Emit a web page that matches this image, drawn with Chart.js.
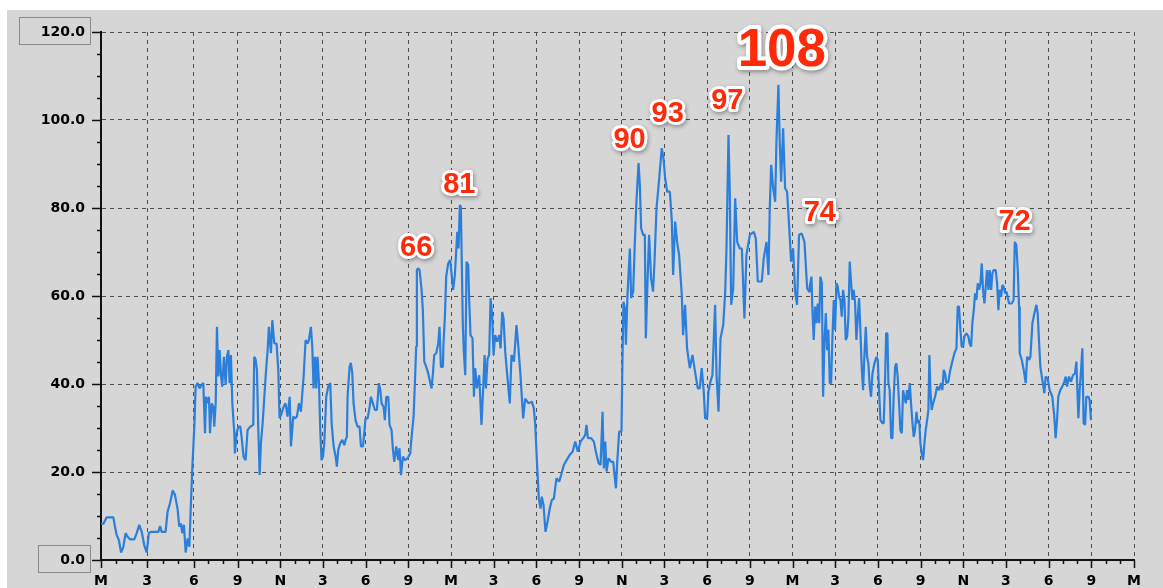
<!DOCTYPE html>
<html><head><meta charset="utf-8">
<style>html,body{margin:0;padding:0;background:#fff;}canvas{display:block;}</style>
<script src="https://cdn.jsdelivr.net/npm/chart.js@4.4.1/dist/chart.umd.min.js"></script>
</head><body>
<canvas id="c" width="1163" height="588"></canvas>
<script>
// x axis: labelled tick positions (months from start) and their labels
const xTickPos = [0, 3.25, 6.53, 9.6, 12.6, 15.6, 18.6, 21.6, 24.6, 27.6, 30.6, 33.6, 36.6,
  39.6, 42.6, 45.6, 48.6, 51.6, 54.6, 57.6, 60.6, 63.6, 66.6, 69.6, 72.6];
const xTickLabels = ['M','3','6','9','N','3','6','9','M','3','6','9','N','3','6','9','M','3','6','9','N','3','6','9','M'];
const yMajorTicks = [0, 20, 40, 60, 80, 100, 120];

// series: time (months) and value
const t = [
 0,0.16,0.40,0.87,0.98,1.10,1.26,1.41,1.57,1.73,
 1.87,2.04,2.34,2.51,2.69,2.86,3.04,3.21,3.37,3.56,
 4.03,4.15,4.26,4.54,4.68,4.85,5.04,5.20,5.39,5.50,
 5.62,5.71,5.83,5.95,6.09,6.21,6.32,6.42,6.49,6.56,
 6.65,6.79,6.93,7.07,7.19,7.31,7.38,7.49,7.59,7.66,
 7.78,7.89,7.96,8.06,8.15,8.24,8.34,8.43,8.52,8.64,
 8.76,8.85,8.95,9.04,9.13,9.23,9.37,9.41,9.53,9.65,
 9.79,9.88,10.02,10.16,10.30,10.49,10.70,10.77,10.87,10.96,
 11.05,11.15,11.24,11.36,11.48,11.57,11.71,11.80,11.94,12.04,
 12.18,12.34,12.46,12.55,12.69,12.83,12.97,13.11,13.26,13.35,
 13.51,13.63,13.77,13.91,14.05,14.24,14.38,14.52,14.61,14.75,
 14.85,14.94,15.04,15.13,15.22,15.32,15.41,15.50,15.60,15.69,
 15.83,15.97,16.11,16.21,16.35,16.49,16.58,16.67,16.81,16.96,
 17.10,17.19,17.28,17.33,17.47,17.56,17.66,17.75,17.89,18.03,
 18.17,18.27,18.41,18.50,18.59,18.74,18.88,18.97,19.11,19.25,
 19.39,19.53,19.63,19.72,19.86,19.95,20.05,20.19,20.28,20.42,
 20.52,20.61,20.75,20.89,20.98,21.08,21.22,21.36,21.55,21.73,
 21.83,21.97,22.06,22.15,22.20,22.30,22.39,22.53,22.62,22.72,
 22.86,23.00,23.14,23.23,23.33,23.42,23.56,23.70,23.79,23.89,
 24.03,24.07,24.17,24.26,24.40,24.54,24.68,
 24.75,24.87,25.04,25.13,25.22,25.29,25.36,25.43,25.50,25.60,
 25.69,25.81,25.88,25.97,26.11,26.21,26.30,26.42,26.58,26.74,
 26.86,26.96,27.05,27.17,27.28,27.38,
 27.49,27.59,27.70,27.84,27.99,28.08,28.20,28.29,28.41,28.55,
 28.73,28.85,29.02,29.20,29.34,29.48,29.67,29.81,30.05,30.28,
 30.42,30.52,30.66,30.77,30.89,30.98,
 31.10,31.24,31.38,31.54,31.68,31.83,32.01,32.20,32.34,32.53,
 32.72,32.95,33.14,33.33,33.51,33.70,33.89,34.03,34.12,34.22,
 34.45,34.64,34.78,34.97,35.11,35.25,
 35.34,35.44,35.53,35.67,35.86,36.00,36.09,36.19,36.28,36.42,
 36.58,36.65,36.72,36.82,36.89,37.00,37.17,37.26,37.40,37.52,
 37.63,37.78,37.87,37.96,38.10,38.22,
 38.29,38.41,38.52,38.66,38.80,38.90,39.04,39.23,39.41,39.53,
 39.65,39.79,39.98,40.12,40.21,40.35,40.49,40.63,40.82,40.91,
 41.05,41.19,41.38,41.57,41.71,41.94,
 42.08,42.22,42.36,42.46,42.60,42.69,42.83,42.97,43.16,43.26,
 43.40,43.54,43.73,43.87,43.96,44.10,44.19,44.29,44.43,44.57,
 44.71,44.89,45.04,45.22,45.36,45.60,
 45.88,46.02,46.16,46.44,46.58,46.77,46.91,47.00,47.10,47.24,
 47.38,47.47,47.61,47.70,47.80,47.94,48.08,48.22,48.36,48.50,
 48.64,48.78,48.92,49.06,49.25,49.44,
 49.63,49.77,
 49.81,49.93,49.99,50.09,50.19,50.28,50.37,50.47,50.56,50.66,
 50.75,50.84,50.94,51.03,51.12,51.22,51.31,51.40,51.50,51.59,
 51.69,51.78,51.87,51.97,52.06,52.15,52.25,52.34,52.44,52.53,
 52.62,52.72,52.81,52.90,53.00,53.09,53.19,53.28,53.37,53.47,
 53.56,53.65,53.75,53.84,53.93,54.03,54.12,54.22,54.36,54.50,
 54.59,54.68,54.78,54.92,55.01,55.11,55.18,55.27,55.34,55.43,
 55.53,55.62,55.71,55.81,55.90,55.99,56.09,56.18,56.28,56.37,
 56.46,56.56,56.65,56.74,56.84,56.93,57.03,57.12,57.21,57.31,
 57.40,57.50,57.59,57.68,57.78,57.87,57.96,58.06,58.15,58.22,
 58.29,58.38,58.48,58.62,58.76,58.90,59.04,59.13,59.23,59.32,
 59.41,59.55,59.69,59.83,59.98,60.12,60.21,60.30,60.40,60.49,
 60.59,60.68,60.82,60.96,61.05,61.15,61.24,61.34,61.43,61.52,
 61.62,61.71,61.81,61.90,61.99,62.09,62.18,62.27,62.37,62.46,
 62.56,62.65,62.74,62.88,62.98,63.07,63.16,63.26,63.35,63.44,
 63.54,63.63,63.72,63.82,64.00,64.14,64.22,64.33,64.43,64.52,
 64.57,64.71,64.85,64.99,65.09,65.23,65.32,65.46,65.60,65.74,
 65.83,65.92,66.02,66.16,66.30,66.39,66.53,66.67,66.86,67.00,
 67.09,67.19,67.28,67.42,67.56,67.70,67.80,67.89,68.03,68.17,
 68.31,68.45,68.55,68.62,68.69,68.78,68.88,68.97,69.06,69.16,
 69.25,69.39,69.48,69.58
];
const v = [
 8.3,8.2,9.7,9.7,7.6,5.7,4.5,1.7,3.0,6.1,
 5.3,4.7,4.7,6.1,8.0,6.4,3.4,1.7,6.2,6.4,
 6.4,7.7,6.4,6.4,11.0,12.9,15.8,14.8,11.4,7.6,
 8.3,6.1,8.0,1.7,4.9,3.0,12.9,21.2,25.8,30.3,
 39.4,40.2,39.0,39.8,40.2,28.8,37.1,35.6,37.1,28.8,
 35.6,34.8,30.3,35.6,53.0,41.7,47.7,42.0,39.4,46.2,
 39.8,46.2,47.7,40.2,46.6,35.6,28.8,24.2,28.8,30.3,
 30.3,28.0,23.5,22.7,29.5,30.3,30.7,46.2,45.5,43.2,
 30.3,19.3,26.5,31.1,37.1,41.7,47.7,53.0,47.0,54.5,
 49.2,49.2,43.2,32.2,33.3,34.8,35.6,32.6,37.1,25.8,
 32.6,32.2,32.6,35.6,33.7,41.7,50.0,49.2,50.0,53.0,
 48.5,39.0,46.2,39.0,46.2,40.2,29.5,22.7,23.5,26.5,
 37.1,39.4,40.2,31.1,25.8,23.5,21.2,25.0,26.5,27.3,
 26.1,27.3,28.0,37.1,43.9,44.8,42.4,35.6,31.8,30.3,
 30.3,25.8,25.8,28.8,32.2,32.2,34.8,37.1,35.6,34.1,
 34.1,40.2,38.6,35.6,34.8,31.8,37.1,37.1,30.7,29.5,
 25.0,22.3,25.8,22.7,25.4,19.3,23.5,22.7,23.1,24.2,
 28.0,32.6,40.2,48.5,65.9,66.3,65.9,61.4,56.8,45.1,
 43.9,42.4,40.2,39.0,42.4,46.6,47.0,49.2,53.0,43.9,
 43.9,49.2,55.3,64.4,67.4,68.2,63.6,
 61.4,64.8,74.6,70.8,80.7,80.3,67.0,53.4,47.3,42.0,
 67.8,67.0,58.7,51.1,50.4,37.1,43.6,39.0,42.0,30.7,
 39.0,46.6,39.0,45.8,46.6,59.5,
 55.7,46.6,51.1,49.6,51.1,48.1,56.4,54.9,47.3,42.0,
 35.6,46.6,45.1,53.4,48.1,42.0,32.2,36.7,35.6,36.0,
 34.5,30.7,20.8,14.0,11.7,14.4,
 12.5,6.4,8.7,11.7,13.6,14.0,18.6,17.8,19.3,21.6,
 22.7,23.9,24.6,26.9,24.6,26.9,27.7,28.4,30.7,27.7,
 27.7,26.9,24.6,22.0,21.6,33.7,
 20.8,26.9,20.1,23.1,22.3,22.3,19.3,16.3,22.3,29.2,
 29.2,45.8,58.7,57.2,48.9,60.2,70.8,59.5,61.0,72.3,
 81.4,90.2,85.2,75.4,73.9,73.9,
 50.4,63.3,73.9,64.0,61.0,67.8,79.9,86.7,93.6,91.3,
 86.7,83.7,83.7,76.9,64.8,76.9,72.3,69.3,60.2,51.1,
 58.0,48.1,43.6,46.6,43.6,39.0,
 39.0,43.6,38.3,32.2,32.2,38.3,40.5,42.0,58.0,42.0,
 33.7,50.4,53.4,61.0,70.8,96.6,83.7,58.0,61.7,82.2,
 72.3,70.8,70.8,54.9,69.3,73.9,
 74.6,73.1,63.3,63.3,68.6,72.3,64.8,79.9,89.8,84.5,
 81.4,95.1,108.0,95.1,86.0,98.1,84.5,83.7,76.1,67.8,
 70.8,61.0,58.0,73.9,74.2,72.3,
 61.7,61.0,
 62.1,64.4,57.6,50.0,57.6,53.8,58.3,53.8,64.4,62.9,
 37.1,49.2,56.1,47.7,52.3,40.2,40.2,50.0,59.1,52.3,
 62.9,62.1,59.8,59.1,55.3,61.4,59.1,50.0,50.8,55.3,
 67.8,62.9,59.1,61.4,58.3,50.0,55.3,59.5,52.3,43.2,
 38.6,46.2,53.0,46.2,44.7,39.4,37.1,42.4,44.7,46.2,
 45.5,38.6,31.8,31.1,31.1,41.7,51.5,51.5,40.2,38.6,
 27.7,27.7,37.1,43.9,44.7,41.7,35.6,29.5,28.8,38.6,
 37.1,35.6,38.6,36.4,40.2,35.6,31.1,28.0,29.5,33.7,
 31.1,31.8,26.5,24.2,22.7,26.5,29.5,31.8,34.1,46.6,
 38.6,34.1,35.6,37.1,39.4,38.6,40.2,38.6,43.2,42.4,
 40.2,40.5,43.2,45.1,47.0,48.1,57.6,57.6,52.3,48.5,
 48.5,50.8,51.5,50.8,49.2,48.5,53.8,56.8,60.6,59.1,
 62.9,61.4,62.9,67.4,61.4,58.3,62.1,65.9,61.4,65.9,
 61.4,65.2,65.9,65.9,62.9,56.8,61.4,59.8,62.5,62.1,
 60.6,61.0,59.8,58.3,58.3,59.1,72.3,71.6,65.9,57.6,
 47.0,45.5,43.2,40.2,46.2,45.5,46.2,53.8,56.1,58.0,
 56.1,50.0,43.9,40.9,37.9,41.7,41.3,38.6,37.1,32.6,
 27.7,31.8,37.1,38.6,39.4,40.5,41.7,39.4,41.7,40.5,
 42.0,42.4,45.1,38.6,32.2,38.6,43.2,48.1,31.1,30.7,
 37.1,37.1,36.4,31.8
];

// peak call-outs (text and its centre in data units)
const calloutText = ['66','81','90','93','97','108','74','72'];
const calloutT    = [22.15, 25.18, 37.15, 39.83, 44.02, 47.85, 50.52, 64.21];
const calloutV    = [71.5, 85.8, 96.0, 101.9, 104.8, 116.6, 79.4, 77.4];
const calloutSize = [29, 29, 29, 29, 29, 53, 29, 29];

const n = Math.min(t.length, v.length);
const points = [];
for (let i = 0; i < n; i++) points.push({x: t[i], y: v[i]});

const AX = '#111';
const GRID = '#505050';
const LABEL_FONT = {family: 'DejaVu Sans', size: 14, weight: 'bold'};

function xTicks() {
  const out = [];
  for (let i = 0; i < xTickPos.length; i++) {
    out.push({value: xTickPos[i], major: true, lbl: xTickLabels[i]});
    if (i < xTickPos.length - 1) {
      const a = xTickPos[i], b = xTickPos[i + 1];
      out.push({value: a + (b - a) / 3, major: false, lbl: ''});
      out.push({value: a + 2 * (b - a) / 3, major: false, lbl: ''});
    }
  }
  return out;
}
function yTicks() {
  const out = [];
  for (let i = 0; i < yMajorTicks.length; i++) {
    out.push({value: yMajorTicks[i], major: true, lbl: yMajorTicks[i].toFixed(1)});
    if (i < yMajorTicks.length - 1) {
      const a = yMajorTicks[i], b = yMajorTicks[i + 1];
      for (let k = 1; k < 4; k++) out.push({value: a + k * (b - a) / 4, major: false, lbl: ''});
    }
  }
  return out;
}

const decor = {
  id: 'decor',
  beforeDraw(chart) {
    const ctx = chart.ctx;
    ctx.save();
    ctx.fillStyle = '#ffffff';
    ctx.fillRect(0, 0, chart.width, chart.height);
    ctx.fillStyle = '#d6d6d6';
    ctx.fillRect(7, 10, chart.width - 7, chart.height - 10);
    ctx.restore();
  },
  afterDraw(chart) {
    const ctx = chart.ctx;
    const xs = chart.scales.x, ys = chart.scales.y;
    const area = chart.chartArea;
    ctx.save();
    // tick marks
    ctx.strokeStyle = AX;
    ctx.lineWidth = 1.5;
    ctx.beginPath();
    xs.ticks.forEach(tk => {
      const px = Math.round(xs.getPixelForValue(tk.value)) + 0.5;
      ctx.moveTo(px, area.bottom);
      ctx.lineTo(px, area.bottom + (tk.major ? 8 : 4));
    });
    ys.ticks.forEach(tk => {
      const py = Math.round(ys.getPixelForValue(tk.value)) + 0.5;
      ctx.moveTo(area.left, py);
      ctx.lineTo(area.left - (tk.major ? 9 : 4), py);
    });
    ctx.stroke();
    // boxes around the top and bottom value labels
    ctx.font = 'bold 14px "DejaVu Sans"';
    ctx.strokeStyle = '#8a8a8a';
    ctx.lineWidth = 1;
    [yMajorTicks[0], yMajorTicks[yMajorTicks.length - 1]].forEach(val => {
      const py = ys.getPixelForValue(val);
      const w = ctx.measureText(val.toFixed(1)).width;
      const right = area.left - 11;
      const left = right - w - 27;
      const top = Math.round(py - 15) + 0.5;
      ctx.strokeRect(Math.round(left) + 0.5, top, Math.round(right - left), 27);
    });
    // call-outs
    for (let i = 0; i < calloutText.length; i++) {
      const px = xs.getPixelForValue(calloutT[i]);
      const py = ys.getPixelForValue(calloutV[i]);
      const size = calloutSize[i];
      ctx.font = 'bold ' + size + 'px "Liberation Sans", Arial, sans-serif';
      ctx.textAlign = 'center';
      ctx.textBaseline = 'alphabetic';
      const base = py + size * 0.358;
      ctx.lineJoin = 'round';
      ctx.lineWidth = size > 40 ? 8 : 6;
      ctx.strokeStyle = '#ffffff';
      ctx.shadowColor = 'rgba(0,0,0,0.35)';
      ctx.shadowBlur = 4;
      ctx.shadowOffsetX = 1;
      ctx.shadowOffsetY = 2;
      ctx.strokeText(calloutText[i], px, base);
      ctx.shadowColor = 'rgba(0,0,0,0)';
      ctx.fillStyle = '#ff2a0a';
      ctx.fillText(calloutText[i], px, base);
    }
    ctx.restore();
  }
};

new Chart(document.getElementById('c'), {
  type: 'line',
  data: {
    datasets: [{
      data: points,
      borderColor: '#2b7fdb',
      borderWidth: 2.2,
      borderJoinStyle: 'bevel',
      pointRadius: 0,
      tension: 0,
      fill: false
    }]
  },
  options: {
    responsive: false,
    animation: false,
    devicePixelRatio: 1,
    layout: {padding: {left: 0, right: 29, top: 32, bottom: 0}},
    plugins: {legend: {display: false}, tooltip: {enabled: false}},
    scales: {
      x: {
        type: 'linear',
        min: xTickPos[0],
        max: xTickPos[xTickPos.length - 1],
        afterBuildTicks: s => { s.ticks = xTicks(); },
        afterFit: s => { s.height = 28; },
        grid: {
          drawTicks: false,
          lineWidth: 1,
          color: c => (c.tick && c.tick.major) ? GRID : 'rgba(0,0,0,0)'
        },
        border: {display: true, color: AX, width: 2, dash: [4, 4]},
        ticks: {
          autoSkip: false, maxRotation: 0, minRotation: 0, padding: 13,
          color: '#000', font: LABEL_FONT,
          callback: (val, i, ticks) => ticks[i].lbl || ''
        }
      },
      y: {
        type: 'linear',
        min: yMajorTicks[0],
        max: yMajorTicks[yMajorTicks.length - 1],
        afterBuildTicks: s => { s.ticks = yTicks(); },
        afterFit: s => { s.width = 101; },
        grid: {
          drawTicks: false,
          lineWidth: 1,
          color: c => (c.tick && c.tick.major) ? GRID : 'rgba(0,0,0,0)'
        },
        border: {display: true, color: AX, width: 2, dash: [4, 4]},
        ticks: {
          autoSkip: false, padding: 16,
          color: '#000', font: LABEL_FONT,
          callback: (val, i, ticks) => ticks[i].lbl || ''
        }
      }
    }
  },
  plugins: [decor]
});
</script>
</body></html>
